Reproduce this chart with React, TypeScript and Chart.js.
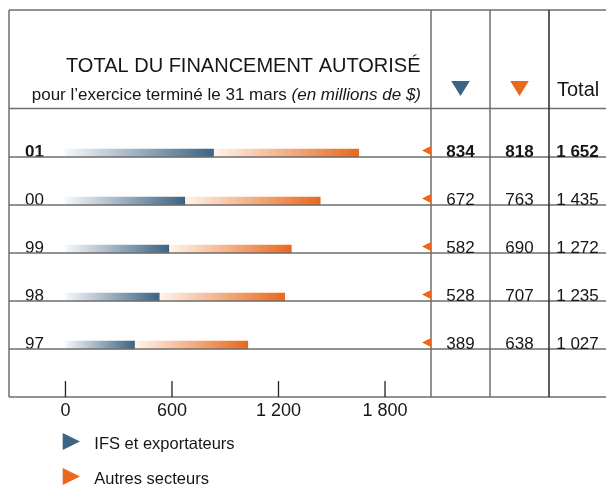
import React, { useEffect, useRef } from 'react';
import { Chart, registerables } from 'chart.js';

Chart.register(...registerables);

// ---- data ----
const years = ['01', '00', '99', '98', '97'];
const ifsExporters = [834, 672, 582, 528, 389];
const otherSectors = [818, 763, 690, 707, 638];
const totals = [1652, 1435, 1272, 1235, 1027];
const xTickValues = [0, 600, 1200, 1800];
const seriesNames = ['IFS et exportateurs', 'Autres secteurs'];
const seriesColors = ['#3d6483', '#e8691d'];
const seriesLight = ['#f5f7fa', '#fff4ec'];
const titleText = 'TOTAL DU FINANCEMENT AUTORISÉ';
const subtitleText = 'pour l’exercice terminé le 31 mars ';
const subtitleItalic = '(en millions de $)';
const totalHeader = 'Total';

// ---- styles ----
const FONT = '"Liberation Sans", Arial, sans-serif';
const TEXT = '#161616';
const LINE = '#6e6e6e';
const BAR = 8;
const HEADER_LINE_Y = 108.5;
const COL_X = [431, 490, 549, 606];
const X_MIN = -318;
const X_MAX = 2059;
const Y_MIN = -2.979;
const Y_MAX = 5.083;

const fmt = (n: number) => {
  const s = String(n);
  return s.length > 3 ? s.slice(0, -3) + ' ' + s.slice(-3) : s;
};

const gradientFor = (k: number) => (c: any) => {
  const chart = c.chart;
  const xs = chart.scales && chart.scales.x;
  if (!xs || c.type !== 'data') return seriesColors[k];
  const i = c.dataIndex;
  const start = k === 0 ? 0 : ifsExporters[i];
  const end = k === 0 ? ifsExporters[i] : ifsExporters[i] + otherSectors[i];
  const x0 = xs.getPixelForValue(start);
  const x1 = xs.getPixelForValue(end);
  if (!isFinite(x0) || !isFinite(x1) || x1 <= x0) return seriesColors[k];
  const g = chart.ctx.createLinearGradient(x0, 0, x1, 0);
  g.addColorStop(0, seriesLight[k]);
  g.addColorStop(1, seriesColors[k]);
  return g;
};

const tri = (ctx: CanvasRenderingContext2D, pts: number[][], color: string) => {
  ctx.beginPath();
  ctx.moveTo(pts[0][0], pts[0][1]);
  ctx.lineTo(pts[1][0], pts[1][1]);
  ctx.lineTo(pts[2][0], pts[2][1]);
  ctx.closePath();
  ctx.fillStyle = color;
  ctx.fill();
};

const decor = {
  id: 'decor',
  afterDatasetsDraw(chart: any) {
    const { ctx, chartArea: ca, scales } = chart;
    const xs = scales.x;
    const ys = scales.y;
    const W = chart.width;
    const rowLine = (i: number) => ys.getPixelForValue(i) + BAR / 2;
    ctx.save();

    // horizontal lines
    ctx.lineWidth = 1.5;
    ctx.strokeStyle = LINE;
    const hl = (yy: number) => {
      ctx.beginPath();
      ctx.moveTo(ca.left, yy);
      ctx.lineTo(W, yy);
      ctx.stroke();
    };
    hl(ca.top);
    hl(HEADER_LINE_Y);
    years.forEach((_, i) => hl(rowLine(i)));
    hl(ca.bottom);

    // vertical lines
    const vl = (xx: number, color: string) => {
      ctx.strokeStyle = color;
      ctx.beginPath();
      ctx.moveTo(xx, ca.top);
      ctx.lineTo(xx, ca.bottom);
      ctx.stroke();
    };
    vl(ca.left, LINE);
    vl(COL_X[0], LINE);
    vl(COL_X[1], LINE);
    vl(COL_X[2], '#2a2a2a');

    // tick marks inside the plot
    ctx.strokeStyle = '#222';
    ctx.lineWidth = 1.3;
    xTickValues.forEach((v) => {
      const px = xs.getPixelForValue(v);
      ctx.beginPath();
      ctx.moveTo(px, ca.bottom - 16);
      ctx.lineTo(px, ca.bottom);
      ctx.stroke();
    });

    // pointer triangles at the right edge of the plot
    years.forEach((_, i) => {
      const yy = rowLine(i) - 6.5;
      tri(ctx, [[ca.right - 9, yy], [ca.right, yy - 4.5], [ca.right, yy + 4.5]], seriesColors[1]);
    });

    // title
    ctx.fillStyle = TEXT;
    ctx.textBaseline = 'alphabetic';
    ctx.textAlign = 'right';
    ctx.font = `20px ${FONT}`;
    ctx.fillText(titleText, 420.5, 72);
    ctx.font = `italic 17px ${FONT}`;
    const iw = ctx.measureText(subtitleItalic).width;
    ctx.fillText(subtitleItalic, 421, 100);
    ctx.font = `17px ${FONT}`;
    ctx.fillText(subtitleText, 421 - iw, 100);

    // header symbols
    const c0 = (COL_X[0] + COL_X[1]) / 2;
    const c1 = (COL_X[1] + COL_X[2]) / 2;
    const c2 = (COL_X[2] + COL_X[3]) / 2;
    tri(ctx, [[c0 - 9.3, 81], [c0 + 9.3, 81], [c0, 96]], seriesColors[0]);
    tri(ctx, [[c1 - 9.3, 81], [c1 + 9.3, 81], [c1, 96]], seriesColors[1]);
    ctx.fillStyle = TEXT;
    ctx.textAlign = 'left';
    ctx.font = `20px ${FONT}`;
    ctx.fillText(totalHeader, 557, 96);

    // table values
    ctx.textAlign = 'center';
    years.forEach((_, i) => {
      const yy = rowLine(i) - 0.5;
      ctx.font = `${i === 0 ? 'bold ' : ''}17px ${FONT}`;
      ctx.fillText(fmt(ifsExporters[i]), c0, yy);
      ctx.fillText(fmt(otherSectors[i]), c1, yy);
      ctx.fillText(fmt(totals[i]), c2, yy);
    });

    // legend
    ctx.textAlign = 'left';
    ctx.font = `16.5px ${FONT}`;
    const legendY = [441.5, 476.5];
    seriesNames.forEach((name, k) => {
      const cy = legendY[k];
      tri(ctx, [[62.7, cy - 8.5], [80, cy], [62.7, cy + 8.5]], seriesColors[k]);
      ctx.fillStyle = TEXT;
      ctx.fillText(name, 94.3, cy + 7.5);
    });

    ctx.restore();
  },
};

export default function App() {
  const ref = useRef<HTMLCanvasElement>(null);
  useEffect(() => {
    if (!ref.current) return;
    const chart = new Chart(ref.current, {
      type: 'bar',
      data: {
        datasets: [
          {
            label: seriesNames[0],
            data: ifsExporters.map((v, i) => ({ x: v, y: i })),
            backgroundColor: gradientFor(0),
            borderWidth: 0,
            barThickness: BAR,
            stack: 's',
          },
          {
            label: seriesNames[1],
            data: otherSectors.map((v, i) => ({ x: v, y: i })),
            backgroundColor: gradientFor(1),
            borderWidth: 0,
            barThickness: BAR,
            stack: 's',
          },
        ],
      } as any,
      options: {
        indexAxis: 'y',
        animation: false,
        responsive: false,
        devicePixelRatio: 1,
        layout: { padding: { left: 9, right: 606 - 431, top: 10, bottom: 0 } },
        plugins: { legend: { display: false }, title: { display: false }, tooltip: { enabled: false } },
        scales: {
          x: {
            type: 'linear',
            position: 'bottom',
            stacked: true,
            offset: false,
            bounds: 'data',
            min: X_MIN,
            max: X_MAX,
            grid: { display: false, drawTicks: false, offset: false },
            border: { display: false },
            afterBuildTicks: (s: any) => {
              s.ticks = xTickValues.map((v) => ({ value: v }));
              s.min = X_MIN;
              s.max = X_MAX;
            },
            afterFit: (s: any) => {
              s.height = 89;
              s.paddingLeft = 0;
              s.paddingRight = 0;
            },
            ticks: {
              padding: 3,
              color: TEXT,
              font: { family: FONT, size: 18 },
              maxRotation: 0,
              autoSkip: false,
              callback: (v: any) => fmt(Number(v)),
            },
          },
          y: {
            type: 'linear',
            position: 'left',
            reverse: true,
            offset: false,
            bounds: 'data',
            min: Y_MIN,
            max: Y_MAX,
            grid: { display: false, drawTicks: false, offset: false },
            border: { display: false },
            afterBuildTicks: (s: any) => {
              s.ticks = years.map((_, i) => ({ value: i }));
              s.min = Y_MIN;
              s.max = Y_MAX;
            },
            afterFit: (s: any) => {
              s.width = 0;
              s.paddingTop = 0;
              s.paddingBottom = 0;
            },
            ticks: {
              mirror: true,
              padding: 16,
              labelOffset: -0.5,
              color: TEXT,
              autoSkip: false,
              font: (c: any) => ({ family: FONT, size: 17, weight: c.index === 0 ? 'bold' : 'normal' }),
              callback: (v: any) => years[Number(v)],
            },
          },
        },
      } as any,
      plugins: [decor],
    });
    return () => chart.destroy();
  }, []);
  return (
    <div style={{ position: 'fixed', left: 0, top: 0, width: 606, height: 486, background: '#fff' }}>
      <canvas ref={ref} width={606} height={486} style={{ display: 'block', width: 606, height: 486 }} />
    </div>
  );
}
